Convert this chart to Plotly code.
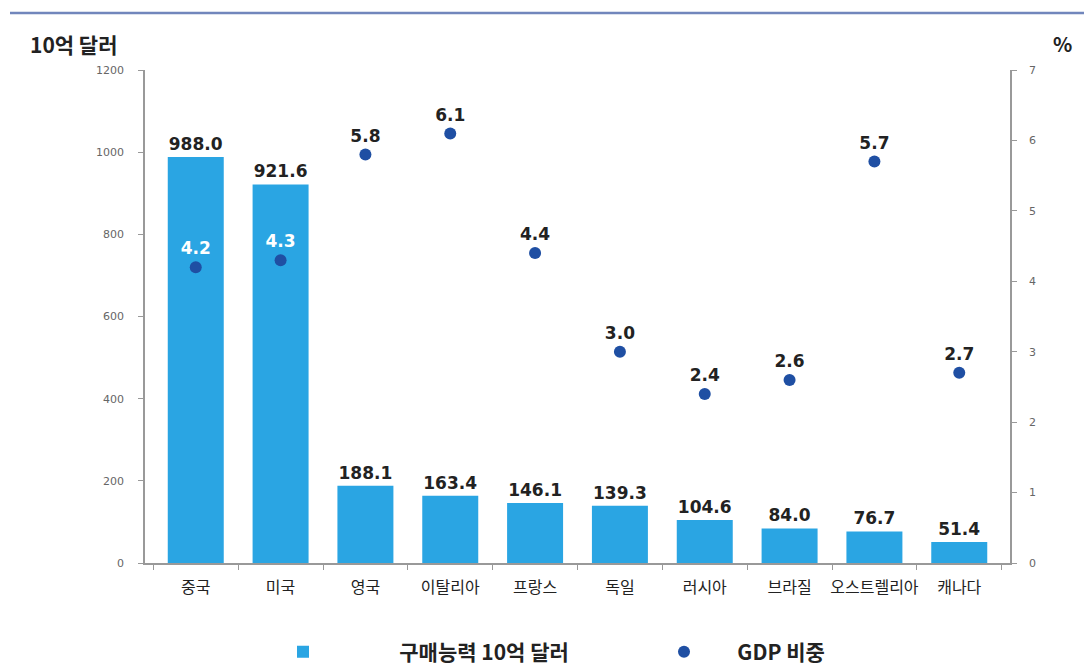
import plotly.graph_objects as go

countries = ["중국", "미국", "영국", "이탈리아", "프랑스", "독일", "러시아", "브라질", "오스트렐리아", "캐나다"]
purchasing = [988.0, 921.6, 188.1, 163.4, 146.1, 139.3, 104.6, 84.0, 76.7, 51.4]
gdp_share = [4.2, 4.3, 5.8, 6.1, 4.4, 3.0, 2.4, 2.6, 5.7, 2.7]
left_ticks = [0, 200, 400, 600, 800, 1000, 1200]
right_ticks = [0, 1, 2, 3, 4, 5, 6, 7]

BAR = "#2AA5E3"
DOT = "#1F4FA3"
KFONT = "Noto Sans CJK KR"
NB = "\u00a0"

dot_text_colors = ["white" if p > 800 else "#222222" for p in purchasing]

fig = go.Figure()
fig.add_trace(go.Bar(
    x=countries, y=purchasing, name=NB * 16 + "구매능력 10억 달러",
    marker=dict(color=BAR, line=dict(width=0)), width=0.66,
    text=[f"{v:.1f}" for v in purchasing], textposition="outside",
    textfont=dict(family="DejaVu Sans", size=17, color="#222222", weight="bold"),
    cliponaxis=False,
))
fig.add_trace(go.Scatter(
    x=countries, y=gdp_share, name=NB * 7 + "GDP 비중", yaxis="y2", mode="markers+text",
    marker=dict(color=DOT, size=12),
    text=[f"{v:.1f}" for v in gdp_share], textposition="top center",
    textfont=dict(family="DejaVu Sans", size=17, color=dot_text_colors, weight="bold"),
    cliponaxis=False,
))

fig.update_layout(
    width=1084, height=665,
    margin=dict(l=145, r=74, t=70, b=102, autoexpand=False),
    paper_bgcolor="white", plot_bgcolor="white",
    showlegend=True,
    legend=dict(orientation="h", x=(283 - 145) / 865, xanchor="left",
                y=-(652 - 563) / 493, yanchor="middle",
                font=dict(family=KFONT, size=21, color="#222222", weight="bold"),
                entrywidth=336, entrywidthmode="pixels"),
    xaxis=dict(
        type="category", showline=True, linecolor="#999999", linewidth=1.5,
        ticks="outside", tickson="boundaries", ticklen=5, tickcolor="#999999",
        tickfont=dict(family=KFONT, size=16, color="#222222"), tickangle=0,
        showgrid=False, ticklabelstandoff=9,
    ),
    yaxis=dict(
        range=[0, 1200], tickvals=left_ticks, showline=True, linecolor="#999999",
        linewidth=1.5, ticks="outside", ticklen=5, tickcolor="#999999",
        tickfont=dict(family="DejaVu Sans", size=11, color="#666666"),
        showgrid=False, zeroline=False, ticklabelstandoff=12,
    ),
    yaxis2=dict(
        range=[0, 7], tickvals=right_ticks, overlaying="y", side="right",
        showline=True, linecolor="#999999", linewidth=1.5, ticks="outside",
        ticklen=5, tickcolor="#999999",
        tickfont=dict(family="DejaVu Sans", size=11, color="#666666"),
        showgrid=False, zeroline=False, ticklabelstandoff=10,
    ),
    bargap=0.3,
)

fig.add_shape(type="line", xref="paper", yref="paper",
              x0=(10 - 145) / 865, x1=(1084 - 145) / 865,
              y0=(563 - 13) / 493, y1=(563 - 13) / 493,
              line=dict(color="#7186BC", width=2.5))
fig.add_annotation(text="10억 달러", xref="paper", yref="paper",
                   x=(28 - 145) / 865, y=(563 - 44) / 493,
                   xanchor="left", yanchor="middle", showarrow=False,
                   font=dict(family=KFONT, size=21, color="#222222", weight="bold"))
fig.add_annotation(text="%", xref="paper", yref="paper",
                   x=(1062 - 145) / 865, y=(563 - 44) / 493,
                   xanchor="center", yanchor="middle", showarrow=False,
                   font=dict(family=KFONT, size=20, color="#222222", weight="bold"))

fig.write_html("out.html", config={"displayModeBar": False},
               post_script="document.body.style.margin='0';")
